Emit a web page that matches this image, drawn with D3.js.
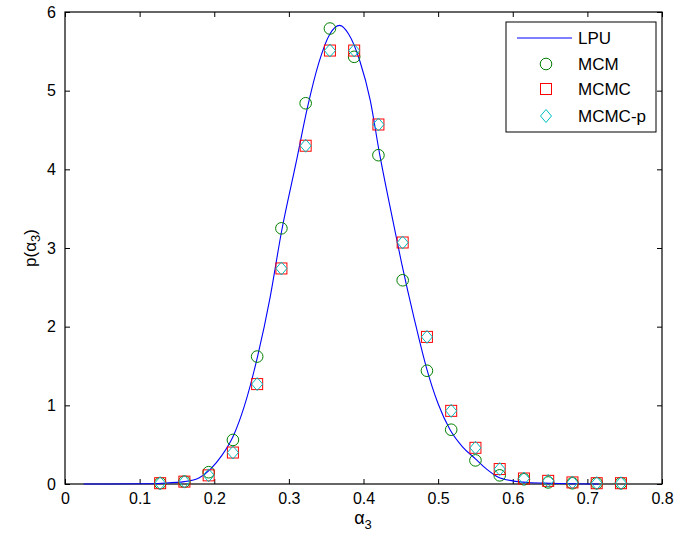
<!DOCTYPE html>
<html>
<head>
<meta charset="utf-8">
<script src="https://cdn.jsdelivr.net/npm/d3@7"></script>
<style>
  body { margin: 0; background: #fff; }
  svg text { font-family: "Liberation Sans", Arial, sans-serif; fill: #000; }
</style>
</head>
<body>
<script>
// bin centres of the sampled histograms
var binX = [0.1275, 0.16, 0.1925, 0.225, 0.2575, 0.29, 0.3225, 0.355, 0.3875, 0.42,
            0.4525, 0.485, 0.5175, 0.55, 0.5825, 0.615, 0.6475, 0.68, 0.7125, 0.745];
var mcm   = [0.01, 0.03, 0.15, 0.56, 1.62, 3.25, 4.84, 5.79, 5.43, 4.18,
             2.59, 1.44, 0.69, 0.30, 0.11, 0.06, 0.02, 0.01, 0.01, 0.01];
var mcmc  = [0.01, 0.03, 0.11, 0.40, 1.27, 2.74, 4.30, 5.51, 5.51, 4.57,
             3.07, 1.87, 0.93, 0.46, 0.19, 0.07, 0.04, 0.02, 0.01, 0.01];
var mcmcP = [0.01, 0.03, 0.11, 0.40, 1.27, 2.74, 4.30, 5.51, 5.51, 4.57,
             3.07, 1.87, 0.93, 0.46, 0.19, 0.07, 0.04, 0.02, 0.01, 0.01];

// LPU density curve
var lpuX = [0.025, 0.06, 0.10, 0.13, 0.16, 0.18, 0.195, 0.21, 0.226, 0.24, 0.258, 0.275,
            0.29, 0.31, 0.325, 0.34, 0.355, 0.368, 0.38, 0.395, 0.409, 0.4215, 0.435,
            0.451, 0.468, 0.484, 0.50, 0.516, 0.533, 0.55, 0.565, 0.58, 0.60, 0.62, 0.65, 0.715];
var lpuY = [0, 0, 0.003, 0.01, 0.03, 0.08, 0.19, 0.36, 0.62, 0.98, 1.62, 2.38,
            3.2, 4.1, 4.79, 5.35, 5.72, 5.83, 5.72, 5.38, 4.88, 4.2, 3.55,
            2.81, 2.1, 1.49, 1.02, 0.69, 0.47, 0.32, 0.19, 0.09, 0.04, 0.02, 0.01, 0];

var xTicks = [0, 0.1, 0.2, 0.3, 0.4, 0.5, 0.6, 0.7, 0.8];
var yTicks = [0, 1, 2, 3, 4, 5, 6];
var legendNames = ["LPU", "MCM", "MCMC", "MCMC-p"];

(function(){

var width = 691, height = 540;
var pLeft = 65, pRight = 662, pTop = 12, pBottom = 484;

var svg = d3.select("body").append("svg")
    .attr("width", width)
    .attr("height", height);

var x = d3.scaleLinear().domain([0, 0.8]).range([pLeft, pRight]);
var y = d3.scaleLinear().domain([0, 6]).range([pBottom, pTop]);

// axes: ticks point inward, labels on bottom/left only
svg.append("g")
    .attr("transform", "translate(0," + pBottom + ")")
    .call(d3.axisBottom(x).tickValues(xTicks).tickSize(-5).tickPadding(9)
      .tickFormat(function(d){ return d === 0 ? "0" : d3.format(".1f")(d); }));
svg.append("g")
    .attr("transform", "translate(0," + pTop + ")")
    .call(d3.axisTop(x).tickValues(xTicks).tickSize(-5).tickFormat(""));
svg.append("g")
    .attr("transform", "translate(" + pLeft + ",0)")
    .call(d3.axisLeft(y).tickValues(yTicks).tickSize(-5).tickPadding(9)
      .tickFormat(d3.format("d")));
svg.append("g")
    .attr("transform", "translate(" + pRight + ",0)")
    .call(d3.axisRight(y).tickValues(yTicks).tickSize(-5).tickFormat(""));

svg.selectAll(".domain").remove();
svg.selectAll(".tick line").attr("stroke", "#000");
svg.selectAll(".tick text")
    .attr("fill", "#000")
    .style("font-size", "16px")
    .style("font-family", "'Liberation Sans', Arial, sans-serif");

svg.append("rect")
    .attr("x", pLeft).attr("y", pTop)
    .attr("width", pRight - pLeft).attr("height", pBottom - pTop)
    .attr("fill", "none").attr("stroke", "#000").attr("stroke-width", 1.2);

// LPU curve
var line = d3.line()
    .x(function(d, i){ return x(lpuX[i]); })
    .y(function(d){ return y(d); })
    .curve(d3.curveMonotoneX);

svg.append("path")
    .datum(lpuY)
    .attr("d", line)
    .attr("fill", "none")
    .attr("stroke", "#0000ff")
    .attr("stroke-width", 1.1);

// markers
function drawCircle(g, cx, cy){
  g.append("circle").attr("cx", cx).attr("cy", cy).attr("r", 5.8)
    .attr("fill", "none").attr("stroke", "#008000").attr("stroke-width", 1);
}
function drawSquare(g, cx, cy){
  g.append("rect").attr("x", cx - 5.5).attr("y", cy - 5.5)
    .attr("width", 11).attr("height", 11)
    .attr("fill", "none").attr("stroke", "#ff0000").attr("stroke-width", 1);
}
function drawDiamond(g, cx, cy){
  g.append("path")
    .attr("d", "M" + cx + "," + (cy - 6.5) + "L" + (cx + 5.5) + "," + cy +
               "L" + cx + "," + (cy + 6.5) + "L" + (cx - 5.5) + "," + cy + "Z")
    .attr("fill", "none").attr("stroke", "#00bfbf").attr("stroke-width", 1);
}

var gMcm = svg.append("g");
binX.forEach(function(b, i){ drawCircle(gMcm, x(b), y(mcm[i])); });
var gMcmc = svg.append("g");
binX.forEach(function(b, i){ drawSquare(gMcmc, x(b), y(mcmc[i])); });
var gMcmcP = svg.append("g");
binX.forEach(function(b, i){ drawDiamond(gMcmcP, x(b), y(mcmcP[i])); });

// axis labels
var xl = svg.append("text")
    .attr("x", 363).attr("y", 524)
    .attr("text-anchor", "middle")
    .style("font-size", "18px");
xl.append("tspan").text("α");
xl.append("tspan").attr("dy", 5).style("font-size", "13px").text("3");

var yl = svg.append("text")
    .attr("transform", "translate(36,248) rotate(-90)")
    .attr("text-anchor", "middle")
    .style("font-size", "17px");
yl.append("tspan").text("p(α");
yl.append("tspan").attr("dy", 4).style("font-size", "13px").text("3");
yl.append("tspan").attr("dy", -4).text(")");

// legend
var lg = svg.append("g");
lg.append("rect")
    .attr("x", 506).attr("y", 22).attr("width", 150).attr("height", 110)
    .attr("fill", "#fff").attr("stroke", "#000").attr("stroke-width", 1);

var rowY = [38, 64, 89, 116];
lg.append("line")
    .attr("x1", 517).attr("x2", 572).attr("y1", rowY[0]).attr("y2", rowY[0])
    .attr("stroke", "#0000ff").attr("stroke-width", 1.1);
drawCircle(lg, 546, rowY[1]);
drawSquare(lg, 546, rowY[2]);
drawDiamond(lg, 546, rowY[3]);

lg.selectAll(".ltext")
    .data(legendNames)
    .enter().append("text")
    .attr("class", "ltext")
    .attr("x", 578)
    .attr("y", function(d, i){ return rowY[i] + 6; })
    .style("font-size", "17px")
    .text(function(d){ return d; });

})();
</script>
</body>
</html>
